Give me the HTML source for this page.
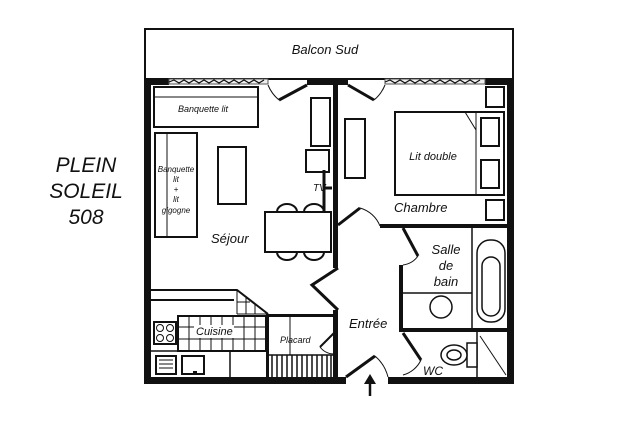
<!DOCTYPE html>
<html><head><meta charset="utf-8"><style>
html,body{margin:0;padding:0;background:#fff}
svg{display:block}
text{font-family:"Liberation Sans",sans-serif;font-style:italic;fill:#111}
</style></head><body>
<svg width="640" height="426" viewBox="0 0 640 426" xmlns="http://www.w3.org/2000/svg">
<rect width="640" height="426" fill="#fff"/>
<text x="86" y="172" font-size="21" text-anchor="middle">PLEIN</text>
<text x="86" y="198" font-size="21" text-anchor="middle">SOLEIL</text>
<text x="86" y="224" font-size="21" text-anchor="middle">508</text>
<rect x="145" y="29" width="368" height="50" fill="#fff" stroke="#111" stroke-width="2"/>
<text x="325" y="54" font-size="13" text-anchor="middle">Balcon  Sud</text>
<g fill="#111">
<rect x="144" y="78" width="25" height="7"/>
<rect x="307" y="78" width="41" height="7"/>
<rect x="485" y="78" width="29" height="7"/>
<rect x="144" y="78" width="7" height="306"/>
<rect x="507" y="78" width="7" height="306"/>
<rect x="144" y="377" width="202" height="7"/>
<rect x="388" y="377" width="126" height="7"/>
<rect x="333" y="80" width="5" height="188"/>
<rect x="333" y="310" width="5" height="68"/>
<rect x="380" y="224" width="128" height="4"/>
<rect x="399" y="265" width="4" height="67"/>
<rect x="399" y="328" width="109" height="4"/>
<rect x="266" y="314" width="3" height="64"/>
<rect x="266" y="314" width="68" height="3"/>
</g>
<g fill="#eee" stroke="#555" stroke-width="1">
<rect x="169" y="79" width="99" height="5"/>
<rect x="385" y="79" width="100" height="5"/>
</g>
<g stroke="#111" fill="none" stroke-width="1.2">
<path d="M169 82 l5-2 5 3 5-3 5 3 5-3 5 3 5-3 5 3 5-3 5 3 5-3 5 3 5-3 5 3 5-3 5 3 5-3 5 3 5-3"/>
<path d="M385 82 l5-2 5 3 5-3 5 3 5-3 5 3 5-3 5 3 5-3 5 3 5-3 5 3 5-3 5 3 5-3 5 3 5-3 5 3 5-3"/>
</g>
<g stroke="#111" fill="none">
<path d="M307 85 L279 100" stroke-width="3"/><path d="M268 85 A38 38 0 0 0 279 100" stroke-width="1"/>
<path d="M348 85 L374 100" stroke-width="3"/><path d="M385 85 A38 38 0 0 1 374 100" stroke-width="1"/>
<path d="M338 225 L360 208" stroke-width="3"/><path d="M360 208 A30 30 0 0 1 380 226" stroke-width="1"/>
<path d="M338 268 L312 285 L338 310" stroke-width="3"/>
<path d="M403 228 L418 256" stroke-width="3"/><path d="M418 256 A22 22 0 0 1 403 265" stroke-width="1"/>
<path d="M403 333 L421 360" stroke-width="3"/><path d="M421 360 A28 28 0 0 1 403 375" stroke-width="1"/>
<path d="M346 377 L375 356" stroke-width="3"/><path d="M375 356 A40 40 0 0 1 388 377" stroke-width="1"/>
<path d="M334 333 L320 347" stroke-width="2"/><path d="M320 347 A18 18 0 0 0 334 354" stroke-width="1"/>
</g>
<g stroke="#111" fill="#fff" stroke-width="2">
<rect x="154" y="87" width="104" height="40"/>
<line x1="154" y1="97" x2="258" y2="97" stroke-width="1"/>
<rect x="155" y="133" width="42" height="104"/>
<line x1="167" y1="133" x2="167" y2="237" stroke-width="1"/>
<rect x="218" y="147" width="28" height="57"/>
<rect x="311" y="98" width="19" height="48"/>
<rect x="306" y="150" width="23" height="22"/>
<rect x="345" y="119" width="20" height="59"/>
<path d="M277 212 a10 8 0 0 1 20 0 M304 212 a10 8 0 0 1 20 0 M277 252 a10 8 0 0 0 20 0 M304 252 a10 8 0 0 0 20 0" fill="none"/>
<rect x="265" y="212" width="66" height="40"/>
</g>
<path d="M324 170 V212 M324 188 H332" stroke="#111" stroke-width="3"/>
<g stroke="#111" fill="#fff" stroke-width="2">
<rect x="486" y="87" width="18" height="20"/>
<rect x="486" y="200" width="18" height="20"/>
<rect x="395" y="112" width="109" height="83"/>
<line x1="476" y1="112" x2="476" y2="195" stroke-width="1"/>
<line x1="465" y1="112" x2="476" y2="130" stroke-width="1"/>
<rect x="481" y="118" width="18" height="28"/>
<rect x="481" y="160" width="18" height="28"/>
</g>
<g stroke="#111" fill="#fff" stroke-width="1.5">
<line x1="472" y1="228" x2="472" y2="328"/>
<line x1="403" y1="293" x2="472" y2="293"/>
<rect x="477" y="240" width="28" height="82" rx="13"/>
<rect x="482" y="257" width="18" height="59" rx="9"/>
<circle cx="441" cy="307" r="11"/>
<line x1="477" y1="332" x2="477" y2="377"/>
<path d="M480 336 L506 375" stroke-width="1"/>
<rect x="467" y="343" width="10" height="24"/>
<ellipse cx="454" cy="355" rx="13" ry="10"/>
<ellipse cx="454" cy="355" rx="7" ry="5"/>
</g>
<g stroke="#111" fill="none" stroke-width="2">
<path d="M151 290 H237 L268 314 M151 300 H234"/>
<rect x="178" y="316" width="88" height="35" fill="#fff"/>
<path d="M151 351 H266 M230 351 V377" stroke-width="1.5"/>
<rect x="154" y="322" width="22" height="22"/>
<rect x="156" y="356" width="20" height="18"/>
<rect x="182" y="356" width="22" height="18"/>
</g>
<g stroke="#111" stroke-width="1" fill="none">
<path d="M189 316V351 M200 316V351 M211 316V351 M222 316V351 M233 316V351 M244 316V351 M255 316V351 M178 327H266 M178 339H266"/>
<path d="M237 290 V314 M246 297 V314 M255 304 V314 M237 302 H250 M237 314 H266"/>
<circle cx="160" cy="328" r="3.5"/><circle cx="170" cy="328" r="3.5"/><circle cx="160" cy="338" r="3.5"/><circle cx="170" cy="338" r="3.5"/>
<path d="M159 360H173M159 364H173M159 368H173"/>
<line x1="290" y1="317" x2="290" y2="355"/>
</g>
<rect x="193" y="371" width="4" height="4" fill="#111"/>
<rect x="194" y="325" width="40" height="13" fill="#fff"/>
<g stroke="#111" stroke-width="1.5">
<line x1="269" y1="355" x2="334" y2="355"/>
<path d="M272 355V377M277 355V377M282 355V377M287 355V377M292 355V377M297 355V377M302 355V377M307 355V377M312 355V377M317 355V377M322 355V377M327 355V377M331 355V377"/>
</g>
<path d="M370 396 V382" stroke="#111" stroke-width="2.5"/>
<path d="M364 384 L370 374 L376 384 Z" fill="#111"/>
<text x="203" y="112" font-size="9" text-anchor="middle">Banquette lit</text>
<text x="176" y="172" font-size="8" text-anchor="middle">Banquette</text>
<text x="176" y="182" font-size="8" text-anchor="middle">lit</text>
<text x="176" y="192" font-size="8" text-anchor="middle">+</text>
<text x="176" y="202" font-size="8" text-anchor="middle">lit</text>
<text x="176" y="213" font-size="8" text-anchor="middle">gigogne</text>
<text x="313" y="191" font-size="10">TV</text>
<text x="433" y="160" font-size="11" text-anchor="middle">Lit double</text>
<text x="394" y="212" font-size="13">Chambre</text>
<text x="211" y="243" font-size="13">Séjour</text>
<text x="446" y="254" font-size="13" text-anchor="middle">Salle</text>
<text x="446" y="270" font-size="13" text-anchor="middle">de</text>
<text x="446" y="286" font-size="13" text-anchor="middle">bain</text>
<text x="349" y="328" font-size="13">Entrée</text>
<text x="196" y="335" font-size="11">Cuisine</text>
<text x="280" y="343" font-size="9">Placard</text>
<text x="423" y="375" font-size="12">WC</text>
</svg>
</body></html>
